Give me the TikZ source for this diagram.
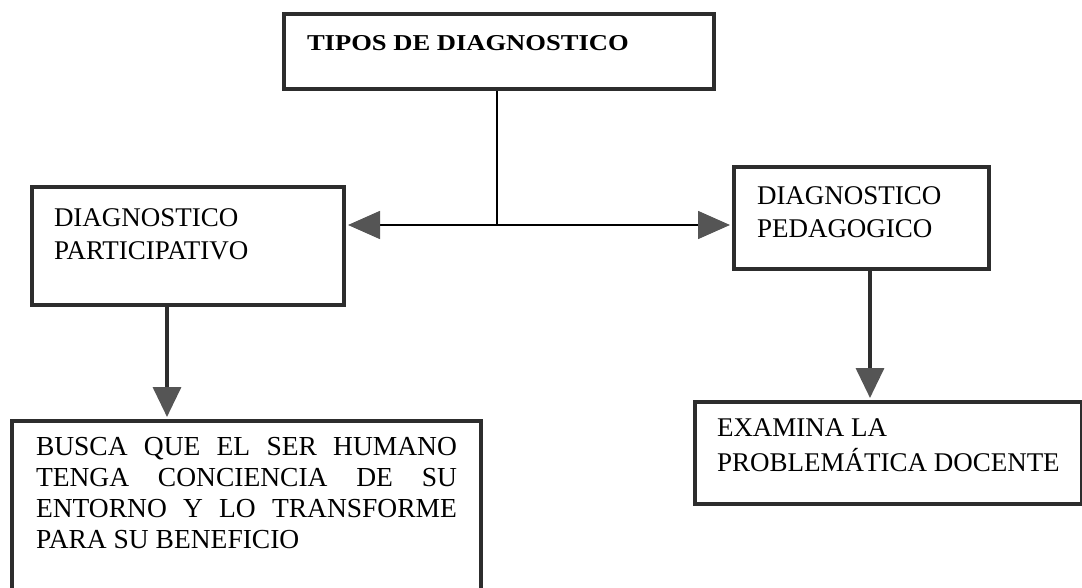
\documentclass[tikz,border=0pt]{standalone}
\usepackage{fontspec}
\usepackage{graphicx}
\setmainfont{Liberation Serif}
\usetikzlibrary{arrows.meta}

\definecolor{boxline}{RGB}{45,45,45}
\definecolor{tipgray}{RGB}{85,85,85}

\tikzset{
  box/.style = {draw = boxline, line width = 4pt, inner sep = 0pt, anchor = north west},
  stem/.style = {line width = 1.6pt, black},
  link/.style = {line width = 1.6pt, black, shorten > = 2pt, -{Triangle[length = 32pt, width = 28pt, color = tipgray]}},
  drop/.style = {line width = 3.5pt, boxline, shorten > = 2pt, -{Triangle[length = 30pt, width = 28pt, color = tipgray]}}
}

\begin{document}
\begin{tikzpicture}[x = 1pt, y = -1pt]
\useasboundingbox (0,0) rectangle (1082,588);

\node[box, inner xsep = 23pt, inner ysep = 21pt] (tipos) at (282,12)
  {\parbox[t][33pt][t]{384pt}{\fontsize{22.7}{27}\selectfont\bfseries\scalebox{1.17}[1]{TIPOS DE DIAGNOSTICO}}};

\node[box, inner xsep = 22pt, inner ysep = 22pt] (partic) at (30,185)
  {\parbox[t][74pt][t]{268pt}{\fontsize{27}{33}\selectfont DIAGNOSTICO\\PARTICIPATIVO}};

\node[box, inner xsep = 23pt, inner ysep = 20pt] (pedag) at (732,165)
  {\parbox[t][62pt][t]{209pt}{\fontsize{27}{33}\selectfont DIAGNOSTICO\\PEDAGOGICO}};

\node[box, inner xsep = 24pt, inner ysep = 16pt] (busca) at (10,419)
  {\parbox[t][149pt][t]{421pt}{\fontsize{27.5}{31}\selectfont
    \makebox[\linewidth][s]{BUSCA QUE EL SER HUMANO}\\
    \makebox[\linewidth][s]{TENGA CONCIENCIA DE SU}\\
    \makebox[\linewidth][s]{ENTORNO Y LO TRANSFORME}\\
    PARA SU BENEFICIO}};

\node[box, inner xsep = 22pt, inner ysep = 17pt] (examina) at (693,400)
  {\parbox[t][68pt][t]{343pt}{\fontsize{27}{35}\selectfont EXAMINA LA\\PROBLEM\'ATICA DOCENTE}};

% connectors
\coordinate (junc) at (497,225);
\draw[stem] (tipos.south -| junc) -- (junc);
\draw[link] (junc) -- (junc -| partic.east);
\draw[link] (junc) -- (junc -| pedag.west);
\draw[drop] ([xshift = -21pt]partic.south) -- ([xshift = -21pt]partic.south |- busca.north);
\draw[drop] ([xshift = 8.5pt]pedag.south) -- ([xshift = 8.5pt]pedag.south |- examina.north);

\end{tikzpicture}
\end{document}
